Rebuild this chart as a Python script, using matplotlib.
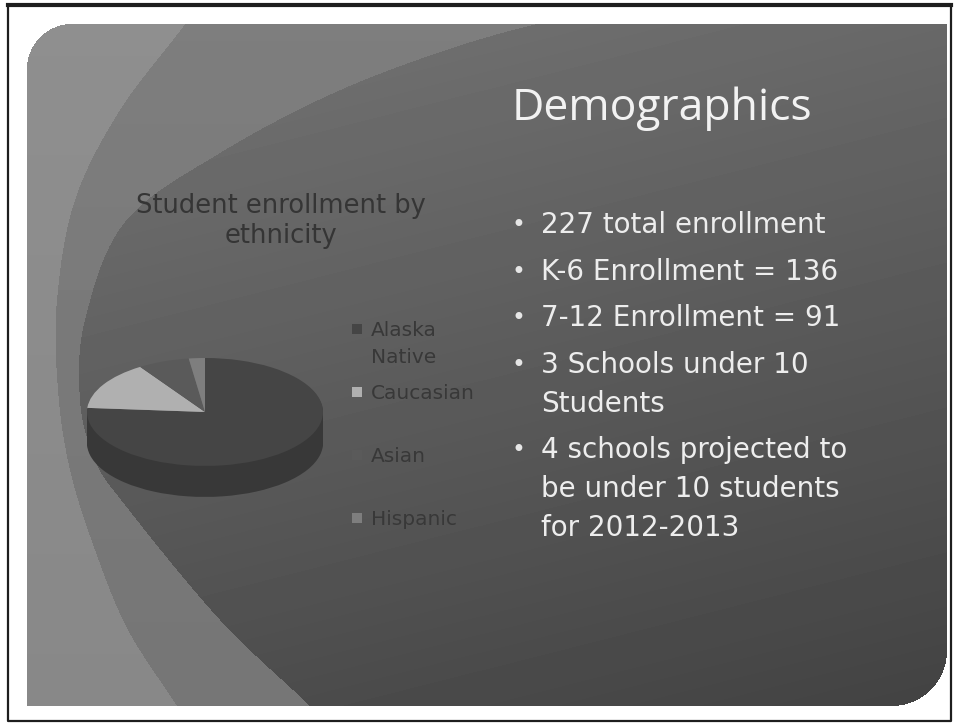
import numpy as np
import matplotlib
matplotlib.use("Agg")
import matplotlib.pyplot as plt
from matplotlib.path import Path

W, H = 955, 725

# chart data
ethnicity = ["Alaska Native", "Caucasian", "Asian", "Hispanic"]
legend_lines = [["Alaska", "Native"], ["Caucasian"], ["Asian"], ["Hispanic"]]
students = [173, 33, 16, 5]
top_colors = ["#454545", "#b0b0b0", "#5a5a5a", "#7e7e7e"]
side_colors = ["#383838", "#8c8c8c", "#4c4c4c", "#666666"]

chart_title = ["Student enrollment by", "ethnicity"]
slide_title = "Demographics"
bullets = [["227 total enrollment"],
           ["K-6 Enrollment = 136"],
           ["7-12 Enrollment = 91"],
           ["3 Schools under 10", "Students"],
           ["4 schools projected to", "be under 10 students", "for 2012-2013"]]

plt.rcParams['font.family'] = ['DejaVu Sans']


def smooth(points, n=40):
    # catmull-rom through the given points
    p = np.array(points, float)
    p = np.vstack([p[0], p, p[-1]])
    out = []
    t = np.linspace(0, 1, n, endpoint=False)[:, None]
    for i in range(1, len(p) - 2):
        p0, p1, p2, p3 = p[i - 1], p[i], p[i + 1], p[i + 2]
        out.append(0.5 * (2 * p1 + (-p0 + p2) * t
                          + (2 * p0 - 5 * p1 + 4 * p2 - p3) * t ** 2
                          + (-p0 + 3 * p1 - 3 * p2 + p3) * t ** 3))
    out.append(p[-2][None])
    return np.vstack(out)


# ---- slide background as a grey image ----
yy, xx = np.mgrid[0:H, 0:W] + 0.5
pts = np.column_stack([xx.ravel(), yy.ravel()])

sx0, sx1, sy0, sy1 = 27, 946, 24, 706
r_tl, r_br = 45, 55
slide = (xx >= sx0) & (xx <= sx1) & (yy >= sy0) & (yy <= sy1)
slide &= ~((xx < sx0 + r_tl) & (yy < sy0 + r_tl) &
           ((xx - sx0 - r_tl) ** 2 + (yy - sy0 - r_tl) ** 2 > r_tl ** 2))
slide &= ~((xx > sx1 - r_br) & (yy > sy1 - r_br) &
           ((xx - sx1 + r_br) ** 2 + (yy - sy1 + r_br) ** 2 > r_br ** 2))

curve_a = smooth([(600, 10), (487, 37), (345, 88), (220, 153), (125, 222),
                  (85, 320), (80, 400), (95, 460), (125, 505), (220, 620),
                  (310, 706), (330, 730)])
dark_poly = np.vstack([curve_a, [(960, 730), (960, 0), (620, 0)]])
dark = Path(dark_poly).contains_points(pts).reshape(H, W)

curve_b = smooth([(195, 0), (185, 24), (120, 110), (75, 200), (57, 300),
                  (58, 390), (70, 470), (95, 550), (128, 630), (177, 706),
                  (190, 730)])
band_poly = np.vstack([curve_b, [(0, 730), (0, 0)]])
band = Path(band_poly).contains_points(pts).reshape(H, W)

img = np.full((H, W), 255.0)
mid = 126 - 0.012 * yy
light = 143 - 0.01 * yy
darkg = np.clip(110 - 0.055 * (yy - 24) - 0.014 * (xx - 500), 66, 120)
img[slide] = mid[slide]
m = slide & band & ~dark
img[m] = light[m]
m = slide & dark
img[m] = darkg[m]

fig = plt.figure(figsize=(W / 100, H / 100), dpi=100)
bg = fig.add_axes([0, 0, 1, 1])
bg.imshow(img, cmap="gray", vmin=0, vmax=255, extent=(0, W, H, 0),
          interpolation="nearest")
bg.set_xlim(0, W)
bg.set_ylim(H, 0)
bg.axis("off")

# page frame
bg.plot([8, 951, 951, 8, 8], [5, 5, 721, 721, 5], color="#1e1e1e", lw=1.6)
bg.plot([8, 951], [5, 5], color="#1e1e1e", lw=3)

# ---- slide texts ----
bg.text(512, 120, slide_title, fontsize=32, color="#f2f2f2", va="baseline",
        family="Open Sans")

y = 233
for item in bullets:
    bg.text(518, y - 8, "\u2022", fontsize=17, color="#e6e6e6",
            ha="center", va="center")
    for k, line in enumerate(item):
        bg.text(541, y + k * 39, line, fontsize=20, color="#ededed",
                va="baseline")
    y += (len(item) - 1) * 39 + 46.5

for k, line in enumerate(chart_title):
    bg.text(281, 213 + k * 30, line, fontsize=18.5, color="#353535",
            ha="center", va="baseline")

# legend
for i, lines in enumerate(legend_lines):
    base = 336 + i * 63
    bg.scatter([357], [base - 7], marker="s", s=55, color=top_colors[i],
               linewidths=0, zorder=3)
    for k, line in enumerate(lines):
        bg.text(371, base + k * 27, line, fontsize=14.5, color="#383838",
                va="baseline")

# ---- 3D-looking pie ----
pax = fig.add_axes([87 / W, 1 - 498 / H, 236 / W, 140 / H])
depth = 31 / 54
for k in np.linspace(depth, 0.02, 20):
    pax.pie(students, colors=side_colors, startangle=90, counterclock=False,
            center=(0, -k), radius=1, wedgeprops=dict(linewidth=0))
pax.pie(students, colors=top_colors, startangle=90, counterclock=False,
        center=(0, 0), radius=1, wedgeprops=dict(linewidth=0))
pax.set_aspect("auto")
pax.set_xlim(-1, 1)
pax.set_ylim(-1 - depth - 0.02, 1)
pax.axis("off")

fig.savefig("out.png", dpi=100)
